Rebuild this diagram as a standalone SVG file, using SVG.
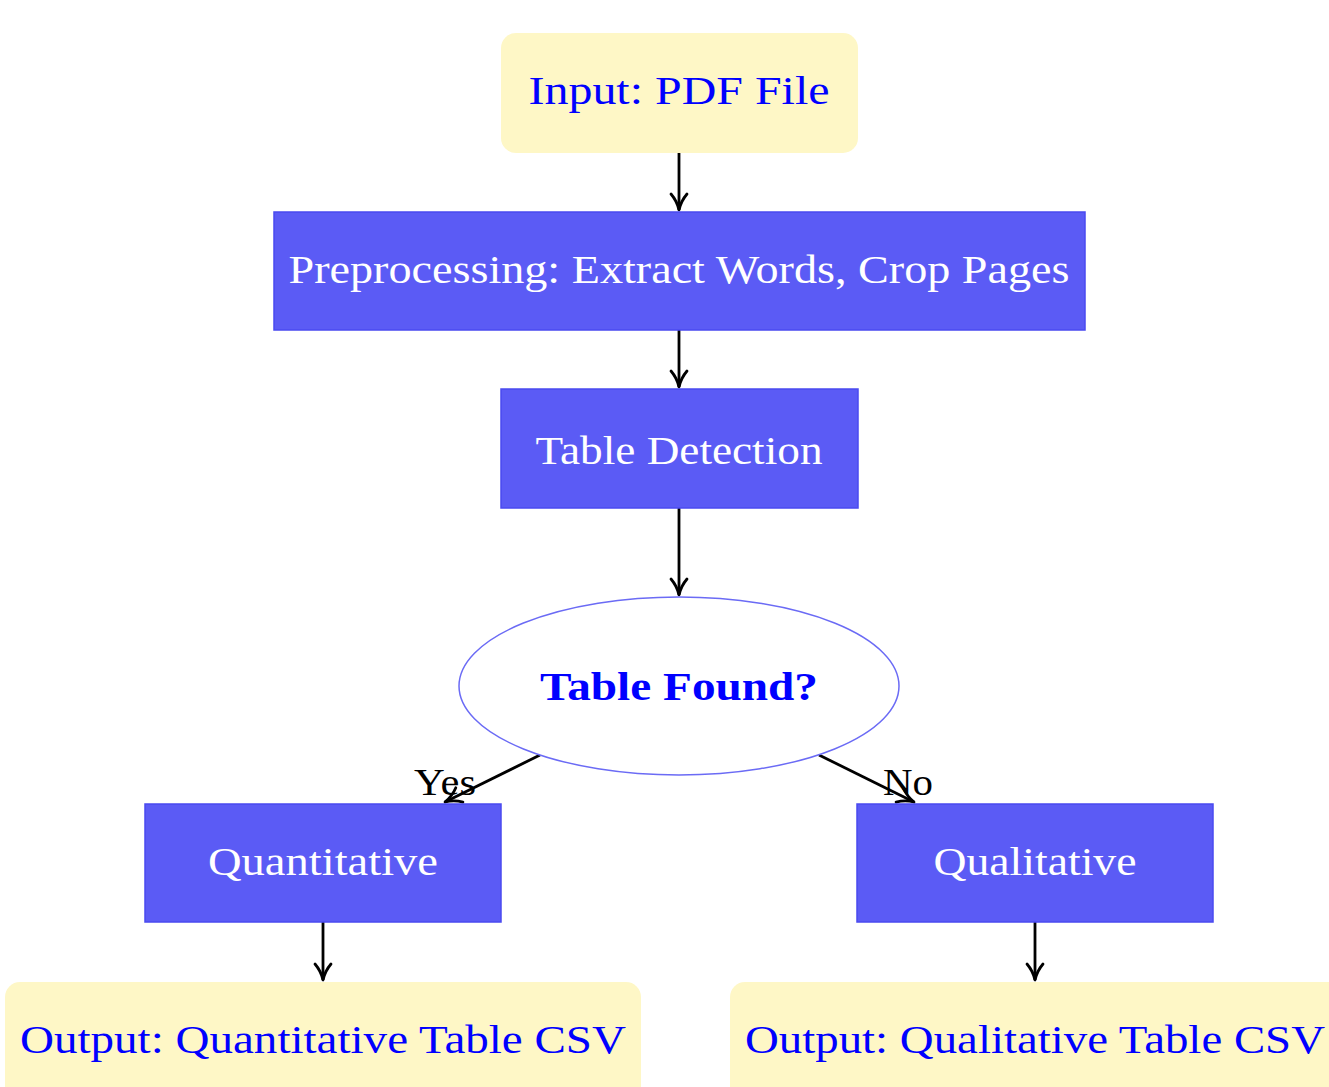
<svg xmlns="http://www.w3.org/2000/svg" width="1329" height="1087" viewBox="0 0 1329 1087">
<defs>
<style>
.io{fill:#fef7c6;stroke:none}
.proc{fill:#5b5bf5;stroke:#4a4af0;stroke-width:1.5}
.dec{fill:#ffffff;stroke:#6b6bf5;stroke-width:1.5}
.tb{font-family:"Liberation Serif","DejaVu Serif",serif;font-size:40px;fill:#0000ff;text-anchor:middle}
.tw{font-family:"Liberation Serif","DejaVu Serif",serif;font-size:40px;fill:#ffffff;text-anchor:middle}
.td{font-family:"Liberation Serif","DejaVu Serif",serif;font-size:40px;font-weight:bold;fill:#0000ff;text-anchor:middle}
.lbl{font-family:"Liberation Serif","DejaVu Serif",serif;font-size:38px;fill:#000000}
.edge{stroke:#000000;stroke-width:2.8;fill:none;marker-end:url(#ah)}
</style>
<marker id="ah" viewBox="0 0 20 20" refX="18" refY="10" markerWidth="20" markerHeight="20" markerUnits="userSpaceOnUse" orient="auto">
<path d="M2,2 Q9,8 18,10 Q9,12 2,18" fill="none" stroke="#000000" stroke-width="2.8" stroke-linecap="round" stroke-linejoin="round"/>
</marker>
</defs>
<rect width="1329" height="1087" fill="#ffffff"/>
<g id="connectors">
<line class="edge" x1="679" y1="153" x2="679" y2="210"/>
<line class="edge" x1="679" y1="330" x2="679" y2="387"/>
<line class="edge" x1="679" y1="508" x2="679" y2="595"/>
<line class="edge" x1="540" y1="755" x2="445" y2="802"/>
<line class="edge" x1="819" y1="755" x2="914" y2="802"/>
<line class="edge" x1="323" y1="922" x2="323" y2="980"/>
<line class="edge" x1="1035" y1="922" x2="1035" y2="980"/>
<text class="lbl" x="414" y="795" textLength="62" lengthAdjust="spacingAndGlyphs">Yes</text>
<text class="lbl" x="883" y="795" textLength="50" lengthAdjust="spacingAndGlyphs">No</text>
</g>
<g id="input">
<rect class="io" x="501" y="33" width="357" height="120" rx="15"/>
<text class="tb" x="679" y="104" textLength="301" lengthAdjust="spacingAndGlyphs">Input: PDF File</text>
</g>
<g id="preprocessing">
<rect class="proc" x="274" y="212" width="811" height="118"/>
<text class="tw" x="679" y="283" textLength="781" lengthAdjust="spacingAndGlyphs">Preprocessing: Extract Words, Crop Pages</text>
</g>
<g id="detection">
<rect class="proc" x="501" y="389" width="357" height="119"/>
<text class="tw" x="679" y="464" textLength="287" lengthAdjust="spacingAndGlyphs">Table Detection</text>
</g>
<g id="decision">
<ellipse class="dec" cx="679" cy="686" rx="220" ry="89"/>
<text class="td" x="679" y="700" textLength="278" lengthAdjust="spacingAndGlyphs">Table Found?</text>
</g>
<g id="quantitative">
<rect class="proc" x="145" y="804" width="356" height="118"/>
<text class="tw" x="323" y="875" textLength="230" lengthAdjust="spacingAndGlyphs">Quantitative</text>
</g>
<g id="qualitative">
<rect class="proc" x="857" y="804" width="356" height="118"/>
<text class="tw" x="1035" y="875" textLength="203" lengthAdjust="spacingAndGlyphs">Qualitative</text>
</g>
<g id="output-quant">
<rect class="io" x="5" y="982" width="636" height="130" rx="15"/>
<text class="tb" x="323" y="1053" textLength="606" lengthAdjust="spacingAndGlyphs">Output: Quantitative Table CSV</text>
</g>
<g id="output-qual">
<rect class="io" x="730" y="982" width="640" height="130" rx="15"/>
<text class="tb" x="1035" y="1053" textLength="580" lengthAdjust="spacingAndGlyphs">Output: Qualitative Table CSV</text>
</g>
</svg>
